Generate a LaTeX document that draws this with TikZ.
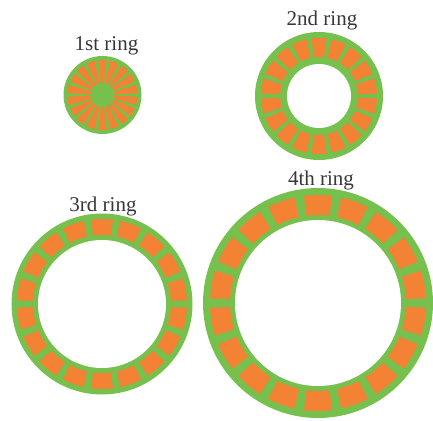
\documentclass[tikz,border=0pt]{standalone}
\usepackage{fontspec}
\setmainfont{Liberation Serif}
\usepackage{xcolor}
\usepackage{tikz}

\definecolor{ringgreen}{RGB}{118,192,77}
\definecolor{segorange}{RGB}{243,130,52}
\definecolor{labelgray}{RGB}{55,55,55}

\begin{document}
\begin{tikzpicture}[
  x=1pt, y=-1pt,
  ring/.style={fill=ringgreen},
  hole/.style={fill=white},
  seg/.style={fill=segorange},
  ringlabel/.style={font=\fontsize{21}{24}\selectfont, text=labelgray, anchor=base, inner sep=0pt}
]
\useasboundingbox (0,0) rectangle (433,420);

% ring 1: spokes round a green hub
\coordinate (c1) at (102.5,95);
\fill[ring] (c1) circle[radius=39];
\begin{scope}[shift={(c1)}]
  \foreach \a in {10,30,...,350}
    \fill[seg] (\a-7:12) -- (\a-7:35) arc[start angle=\a-7, end angle=\a+7, radius=35] -- (\a+7:12) arc[start angle=\a+7, end angle=\a-7, radius=12] -- cycle;
\end{scope}
\node[ringlabel] (l1) at (106.5,51) {1st ring};

% ring 2
\coordinate (c2) at (319,96);
\fill[ring] (c2) circle[radius=64];
\fill[hole] (c2) circle[radius=32];
\begin{scope}[shift={(c2)}]
  \foreach \a in {10,30,...,350}
    \fill[seg] (\a-7.5:39) -- (\a-7.5:58) arc[start angle=\a-7.5, end angle=\a+7.5, radius=58] -- (\a+7.5:39) arc[start angle=\a+7.5, end angle=\a-7.5, radius=39] -- cycle;
\end{scope}
\node[ringlabel] (l2) at (322,26) {2nd ring};

% ring 3
\coordinate (c3) at (102,304);
\fill[ring] (c3) circle[radius=90.5];
\fill[hole] (c3) circle[radius=64];
\begin{scope}[shift={(c3)}]
  \foreach \a in {10,30,...,350}
    \fill[seg] (\a-7.5:69) -- (\a-7.5:85) arc[start angle=\a-7.5, end angle=\a+7.5, radius=85] -- (\a+7.5:69) arc[start angle=\a+7.5, end angle=\a-7.5, radius=69] -- cycle;
\end{scope}
\node[ringlabel] (l3) at (103,211.5) {3rd ring};

% ring 4
\coordinate (c4) at (318,303);
\fill[ring] (c4) circle[radius=115];
\fill[hole] (c4) circle[radius=83];
\begin{scope}[shift={(c4)}]
  \foreach \a in {10,30,...,350}
    \fill[seg] (\a-7.5:88) -- (\a-7.5:108) arc[start angle=\a-7.5, end angle=\a+7.5, radius=108] -- (\a+7.5:88) arc[start angle=\a+7.5, end angle=\a-7.5, radius=88] -- cycle;
\end{scope}
\node[ringlabel] (l4) at (321,185) {4th ring};
\end{tikzpicture}
\end{document}
